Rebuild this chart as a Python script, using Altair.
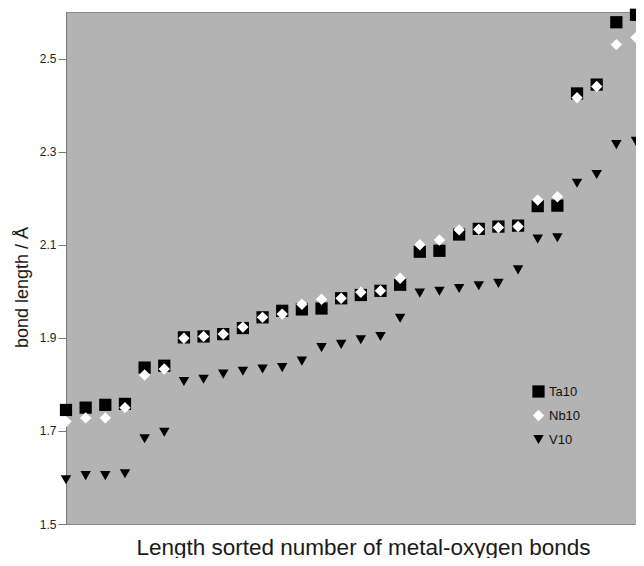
import altair as alt
import pandas as pd

# Values (bond index 0..29 sorted by length)
ta10 = [1.745, 1.750, 1.756, 1.758, 1.836, 1.840, 1.901, 1.903, 1.908, 1.921,
        1.944, 1.958, 1.961, 1.963, 1.985, 1.992, 2.001, 2.014, 2.085, 2.087,
        2.122, 2.134, 2.139, 2.141, 2.183, 2.184, 2.425, 2.444, 2.578, 2.594]
nb10 = [1.720, 1.728, 1.728, 1.750, 1.820, 1.833, 1.899, 1.903, 1.908, 1.923,
        1.944, 1.951, 1.972, 1.983, 1.985, 1.998, 2.001, 2.028, 2.100, 2.110,
        2.132, 2.133, 2.137, 2.139, 2.196, 2.203, 2.416, 2.440, 2.530, 2.545]
v10 = [1.595, 1.604, 1.604, 1.608, 1.683, 1.697, 1.806, 1.811, 1.822, 1.828,
       1.833, 1.836, 1.850, 1.879, 1.886, 1.896, 1.903, 1.942, 1.996, 2.000,
       2.006, 2.012, 2.017, 2.046, 2.112, 2.115, 2.232, 2.251, 2.315, 2.322]
series_names = ["Ta10", "Nb10", "V10"]
y_ticks = [1.5, 1.7, 1.9, 2.1, 2.3, 2.5]

rows = []
for name, vals in zip(series_names, [ta10, nb10, v10]):
    for i, v in enumerate(vals):
        rows.append({"idx": i, "length": v, "series": name})
df = pd.DataFrame(rows)

FONT = "Liberation Sans"

legend = alt.Legend(title=None, orient="none", legendX=466, legendY=373,
                    labelFont=FONT, labelFontSize=13, labelColor="#111",
                    symbolSize=100, symbolStrokeWidth=0, rowPadding=10,
                    labelOffset=4)

chart = alt.Chart(df).mark_point(filled=True, strokeWidth=0, opacity=1).encode(
    x=alt.X("idx:Q", scale=alt.Scale(domain=[0, 29], nice=False, zero=False),
            axis=alt.Axis(title="Length sorted number of metal-oxygen bonds",
                          labels=False, ticks=False, domain=False, grid=False,
                          titleFontSize=22.5, titleFont=FONT, titleFontWeight="normal",
                          titleColor="#1a1a1a", titleX=297, titleY=30,
                          titleAlign="center", titleBaseline="alphabetic")),
    y=alt.Y("length:Q", scale=alt.Scale(domain=[1.5, 2.6], nice=False, zero=False),
            axis=alt.Axis(title="bond length / Å", values=y_ticks, format=".1f",
                          grid=False, tickSize=8, tickColor="#777", domainColor="#777",
                          labelFontSize=12, labelFont=FONT, labelColor="#222",
                          labelPadding=2,
                          titleFontSize=18, titleFont=FONT, titleFontWeight="normal",
                          titleColor="#1a1a1a", titleAngle=270, titleX=-44, titleY=275,
                          titleAlign="center", titleBaseline="middle")),
    color=alt.Color("series:N",
                    scale=alt.Scale(domain=series_names, range=["#000000", "#ffffff", "#000000"]),
                    legend=legend),
    shape=alt.Shape("series:N",
                    scale=alt.Scale(domain=series_names,
                                    range=["square", "diamond", "triangle-down"]),
                    legend=legend),
    size=alt.Size("series:N",
                  scale=alt.Scale(domain=series_names, range=[150, 110, 125]),
                  legend=None),
).properties(
    width=570, height=512,
    autosize=alt.AutoSizeParams(type="none"),
    padding={"left": 58, "top": 4, "right": 0, "bottom": 34},
    background="#ffffff",
).configure_view(
    fill="#b3b3b3", stroke="#8a8a8a", strokeWidth=1
)

chart.save("out.html", embed_options={"renderer": "svg", "actions": False})
